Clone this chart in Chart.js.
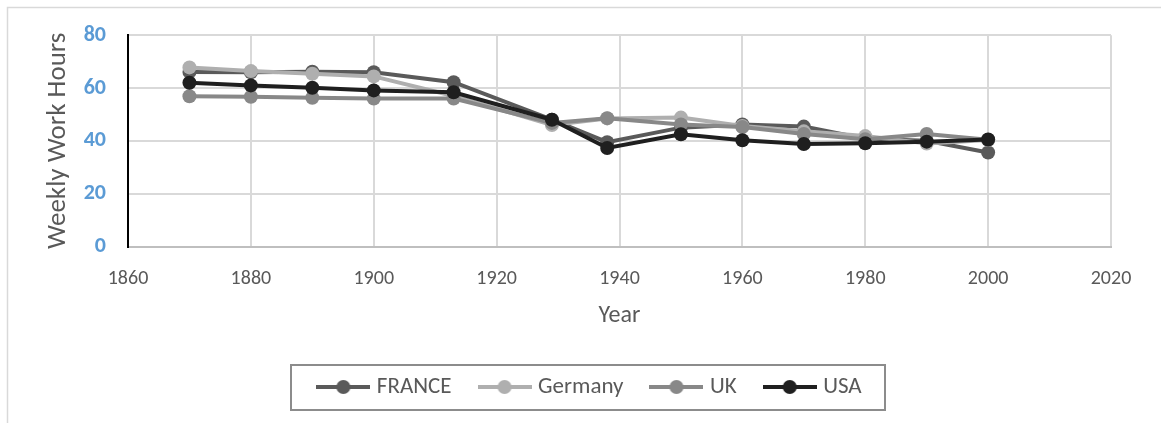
<!DOCTYPE html>
<html>
<head>
<meta charset="utf-8">
<script src="https://cdn.jsdelivr.net/npm/chart.js@4/dist/chart.umd.min.js"></script>
<style>
  html, body { margin: 0; padding: 0; background: #ffffff; }
  #wrap { width: 1161px; height: 423px; position: relative; }
</style>
</head>
<body>
<div id="wrap"><canvas id="c" width="1161" height="423"></canvas></div>
<script>
// ---- data ----
const years   = [1870, 1880, 1890, 1900, 1913, 1929, 1938, 1950, 1960, 1970, 1980, 1990, 2000];
const france  = [66.1, 66.0, 66.2, 66.0, 62.2, 48.0, 39.5, 45.0, 46.2, 45.4, 40.8, 40.0, 35.6];
const germany = [67.8, 66.4, 65.4, 64.4, 57.0, 46.0, 48.5, 48.8, 45.6, 43.6, 41.8, 39.0, 40.3];
const uk      = [56.9, 56.7, 56.3, 56.0, 56.0, 46.8, 48.6, 46.2, 45.2, 42.6, 40.6, 42.6, 40.4];
const usa     = [62.0, 61.0, 60.1, 59.1, 58.4, 48.0, 37.3, 42.5, 40.2, 38.8, 39.1, 39.7, 40.5];
const seriesNames = ['FRANCE', 'Germany', 'UK', 'USA'];
const seriesData  = [france, germany, uk, usa];
const seriesColors = ['#5a5a5a', '#afafaf', '#888888', '#1f1f1f'];
const xTicks = [1860, 1880, 1900, 1920, 1940, 1960, 1980, 2000, 2020];
const yTicks = [0, 20, 40, 60, 80];

const FONT = 'Carlito, Lato, "Liberation Sans", sans-serif';
const TEXT = '#595959';

function makeIcon(color) {
  const c = document.createElement('canvas');
  c.width = 54; c.height = 16;
  const g = c.getContext('2d');
  g.strokeStyle = color; g.lineWidth = 4;
  g.beginPath(); g.moveTo(0, 8); g.lineTo(54, 8); g.stroke();
  g.fillStyle = color;
  g.beginPath(); g.arc(27, 8, 7, 0, Math.PI * 2); g.fill();
  return c;
}

const datasets = seriesNames.map((name, i) => ({
  label: name,
  data: years.map((yr, k) => ({ x: yr, y: seriesData[i][k] })),
  borderColor: seriesColors[i],
  backgroundColor: seriesColors[i],
  pointBackgroundColor: seriesColors[i],
  pointBorderColor: seriesColors[i],
  borderWidth: 4,
  pointRadius: 7,
  pointBorderWidth: 0,
  tension: 0,
  order: seriesNames.length - 1 - i
}));

const framePlugin = {
  id: 'frame',
  afterLayout(chart) {
    const lg = chart.legend;
    if (lg) { lg.left += 16; lg.right += 16; }
  },
  beforeDraw(chart) {
    const ctx = chart.ctx;
    ctx.save();
    ctx.strokeStyle = '#d9d9d9';
    ctx.lineWidth = 1.5;
    ctx.beginPath();
    ctx.moveTo(7.5, 423); ctx.lineTo(7.5, 7.5); ctx.lineTo(1161, 7.5);
    ctx.stroke();
    ctx.restore();
  },
  afterDraw(chart) {
    const lg = chart.legend;
    if (!lg || !lg.legendHitBoxes || !lg.legendHitBoxes.length) return;
    const hb = lg.legendHitBoxes;
    const first = hb[0], last = hb[hb.length - 1];
    const l = first.left - 30, r = last.left + last.width + 24;
    const t = first.top - 10.5, b = first.top + first.height + 11.5;
    const ctx = chart.ctx;
    ctx.save();
    ctx.strokeStyle = '#8c8c8c';
    ctx.lineWidth = 2;
    ctx.strokeRect(Math.round(l), Math.round(t), Math.round(r - l), Math.round(b - t));
    ctx.restore();
  }
};

new Chart(document.getElementById('c'), {
  type: 'line',
  data: { datasets },
  plugins: [framePlugin],
  options: {
    responsive: false,
    animation: false,
    events: [],
    layout: { padding: { left: 40, right: 50, top: 35, bottom: 14.5 } },
    plugins: {
      tooltip: { enabled: false },
      legend: {
        position: 'bottom',
        labels: {
          usePointStyle: true,
          pointStyleWidth: 44,
          padding: 31,
          color: TEXT,
          font: { family: FONT, size: 23 },
          sort: (a, b) => a.datasetIndex - b.datasetIndex,
          generateLabels(chart) {
            const items = Chart.defaults.plugins.legend.labels.generateLabels(chart);
            items.forEach(it => { it.pointStyle = makeIcon(seriesColors[it.datasetIndex]); });
            return items;
          }
        }
      }
    },
    scales: {
      x: {
        type: 'linear',
        min: xTicks[0],
        max: xTicks[xTicks.length - 1],
        afterBuildTicks(scale) { scale.ticks = xTicks.map(v => ({ value: v })); },
        afterFit(scale) { scale.height = 98; },
        ticks: {
          color: TEXT,
          padding: 20,
          font: { family: FONT, size: 20 },
          callback: v => String(v)
        },
        grid: {
          drawTicks: false,
          lineWidth: 2,
          color: c => (c.tick && c.tick.value === xTicks[0]) ? 'rgba(0,0,0,0)' : '#d9d9d9'
        },
        border: { color: '#bfbfbf', width: 2 },
        title: {
          display: true,
          text: 'Year',
          color: TEXT,
          font: { family: FONT, size: 24 },
          padding: 14
        }
      },
      y: {
        min: yTicks[0],
        max: yTicks[yTicks.length - 1],
        afterBuildTicks(scale) { scale.ticks = yTicks.map(v => ({ value: v })); },
        afterFit(scale) { scale.width = 88; },
        ticks: {
          color: '#5b9bd5',
          padding: 22,
          font: { family: FONT, size: 22, weight: 'bold' }
        },
        grid: {
          drawTicks: false,
          lineWidth: 2,
          color: c => (c.tick && c.tick.value === yTicks[0]) ? 'rgba(0,0,0,0)' : '#d9d9d9'
        },
        border: { color: '#000000', width: 2 },
        title: {
          display: true,
          text: 'Weekly Work Hours',
          color: TEXT,
          font: { family: FONT, size: 27 },
          padding: 2
        }
      }
    }
  }
});
</script>
</body>
</html>
